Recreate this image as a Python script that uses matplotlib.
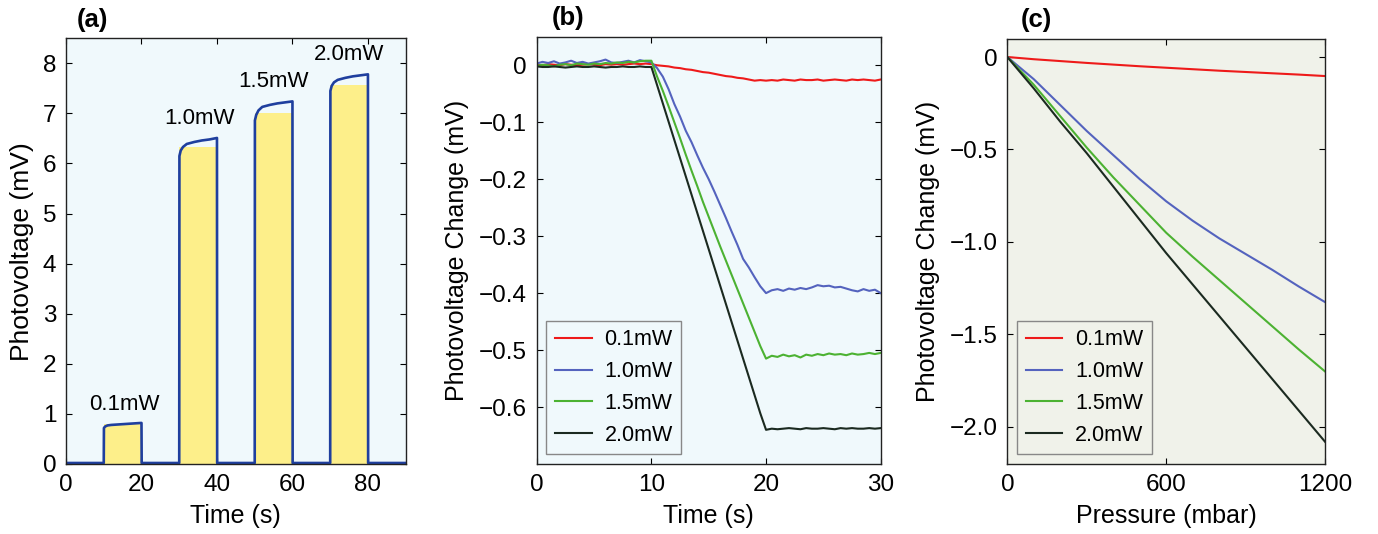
import numpy as np
import matplotlib.pyplot as plt

plt.rcParams['font.family'] = ['Liberation Sans', 'DejaVu Sans']

# ── Panel (a): photovoltage pulses ────────────────────────────────
a_time = [0, 10, 10.05, 10.4, 11, 12, 14, 16, 18, 20, 20.05,
          30, 30.05, 30.4, 31, 32, 34, 36, 38, 40, 40.05,
          50, 50.05, 50.4, 51, 52, 54, 56, 58, 60, 60.05,
          70, 70.05, 70.4, 71, 72, 74, 76, 78, 80, 80.05, 90]
a_volt = [0.02, 0.02, 0.72, 0.75, 0.77, 0.78, 0.79, 0.80, 0.81, 0.82, 0.02,
          0.02, 6.15, 6.26, 6.33, 6.39, 6.43, 6.46, 6.48, 6.51, 0.02,
          0.02, 6.86, 6.97, 7.06, 7.13, 7.17, 7.20, 7.22, 7.24, 0.02,
          0.02, 7.45, 7.55, 7.62, 7.67, 7.71, 7.74, 7.76, 7.78, 0.02, 0.02]
pulse_start = [10, 30, 50, 70]
pulse_width = [10, 10, 10, 10]
pulse_fill = [0.80, 6.33, 7.00, 7.57]
pulse_names = ["0.1mW", "1.0mW", "1.5mW", "2.0mW"]
label_x = [15.5, 35.4, 55.1, 75.0]
label_y = [0.98, 6.68, 7.43, 7.97]

# ── Panel (b): photovoltage change vs time ────────────────────────
b_time = np.arange(0, 30.5, 0.5)
b_01 = [0.001, 0.000, 0.002, 0.001, 0.000, 0.002, 0.001, 0.000, 0.001, 0.002,
        0.001, 0.000, 0.002, 0.001, 0.002, 0.001, 0.002, 0.003, 0.002, 0.003,
        0.002, 0.000, -0.001, -0.002, -0.004, -0.005, -0.007, -0.008, -0.010, -0.012,
        -0.013, -0.015, -0.017, -0.019, -0.020, -0.022, -0.023, -0.025, -0.027, -0.026,
        -0.027,
        -0.026, -0.027, -0.025, -0.026, -0.027, -0.025, -0.026, -0.026, -0.025, -0.027,
        -0.026, -0.025, -0.026, -0.027, -0.025, -0.026, -0.025, -0.026, -0.027, -0.025]
b_10 = [0.003, 0.006, 0.004, 0.007, 0.003, 0.005, 0.008, 0.004, 0.006, 0.003,
        0.005, 0.007, 0.010, 0.005, 0.004, 0.006, 0.008, 0.005, 0.009, 0.007,
        0.005, -0.005, -0.020, -0.042, -0.068, -0.090, -0.115, -0.135, -0.158, -0.180,
        -0.200, -0.222, -0.245, -0.268, -0.292, -0.315, -0.340, -0.355, -0.372, -0.388,
        -0.400,
        -0.395, -0.393, -0.396, -0.392, -0.394, -0.391, -0.393, -0.390, -0.386, -0.388,
        -0.387, -0.390, -0.389, -0.392, -0.395, -0.397, -0.393, -0.396, -0.394, -0.400]
b_15 = [-0.001, 0.001, 0.000, -0.002, 0.001, 0.002, 0.000, 0.003, 0.002, 0.001,
        0.003, 0.002, 0.004, 0.003, 0.005, 0.004, 0.006, 0.005, 0.007, 0.008,
        0.008, -0.020, -0.045, -0.072, -0.100, -0.128, -0.157, -0.185, -0.212, -0.240,
        -0.266, -0.292, -0.318, -0.343, -0.368, -0.393, -0.418, -0.443, -0.468, -0.493,
        -0.515,
        -0.510, -0.512, -0.508, -0.511, -0.509, -0.513, -0.508, -0.510, -0.507, -0.509,
        -0.506, -0.508, -0.507, -0.509, -0.506, -0.508, -0.507, -0.505, -0.507, -0.505]
b_20 = [-0.002, -0.003, -0.003, -0.002, -0.003, -0.004, -0.003, -0.002, -0.003, -0.003,
        -0.002, -0.003, -0.004, -0.003, -0.003, -0.002, -0.003, -0.003, -0.002, -0.003,
        -0.003, -0.035, -0.067, -0.099, -0.131, -0.163, -0.195, -0.227, -0.259, -0.291,
        -0.323, -0.355, -0.387, -0.419, -0.451, -0.483, -0.515, -0.547, -0.579, -0.611,
        -0.640,
        -0.638, -0.639, -0.638, -0.637, -0.638, -0.639, -0.637, -0.638, -0.638, -0.637,
        -0.638, -0.639, -0.637, -0.638, -0.637, -0.638, -0.638, -0.637, -0.638, -0.637]

# ── Panel (c): photovoltage change vs pressure ────────────────────
c_press = [0, 100, 200, 300, 400, 500, 600, 700, 800, 900, 1000, 1100, 1200]
c_01 = [0, -0.012, -0.022, -0.032, -0.041, -0.050, -0.058, -0.066, -0.074, -0.081, -0.088, -0.095, -0.103]
c_10 = [0, -0.12, -0.26, -0.40, -0.53, -0.66, -0.78, -0.885, -0.98, -1.065, -1.15, -1.24, -1.325]
c_15 = [0, -0.15, -0.32, -0.49, -0.65, -0.80, -0.95, -1.08, -1.205, -1.33, -1.455, -1.58, -1.70]
c_20 = [0, -0.17, -0.35, -0.52, -0.70, -0.88, -1.06, -1.23, -1.40, -1.57, -1.74, -1.91, -2.08]

series_names = ["0.1mW", "1.0mW", "1.5mW", "2.0mW"]
series_colors = ["#ee1a1a", "#5463be", "#4cb232", "#1b2a20"]

BG_BLUE = "#f0f9fc"
BG_BEIGE = "#f0f2ea"
TICK_FS = 17.5
LABEL_FS = 18


def style_axes(ax, bg):
    ax.set_facecolor(bg)
    ax.tick_params(direction="in", length=4, width=0.8, top=True, right=True,
                   labelsize=TICK_FS, pad=7)
    for sp in ax.spines.values():
        sp.set_linewidth(1.0)
        sp.set_color("#222222")


fig = plt.figure(figsize=(13.78, 5.34), dpi=100)
ax_a = fig.add_axes([0.0479, 0.1311, 0.2465, 0.7972])
ax_b = fig.add_axes([0.3895, 0.1311, 0.2496, 0.8000])
ax_c = fig.add_axes([0.7310, 0.1311, 0.2306, 0.7968])

# (a)
style_axes(ax_a, BG_BLUE)
ax_a.bar(pulse_start, pulse_fill, width=pulse_width, align="edge",
         color="#fdef8a", zorder=1)
ax_a.plot(a_time, a_volt, color="#1f3f9e", lw=1.9, zorder=2)
for name, x, y in zip(pulse_names, label_x, label_y):
    ax_a.text(x, y, name, ha="center", va="bottom", fontsize=16)
ax_a.set_xlim(0, 90)
ax_a.set_ylim(0, 8.5)
ax_a.set_xticks([0, 20, 40, 60, 80])
ax_a.set_yticks(range(0, 9))
ax_a.set_xlabel("Time (s)", fontsize=LABEL_FS, labelpad=6)
ax_a.set_ylabel("Photovoltage (mV)", fontsize=19, labelpad=6)

# (b)
style_axes(ax_b, BG_BLUE)
for vals, name, col in zip([b_01, b_10, b_15, b_20], series_names, series_colors):
    ax_b.plot(b_time, vals, color=col, lw=1.5, label=name)
ax_b.set_xlim(0, 30)
ax_b.set_ylim(-0.70, 0.05)
ax_b.set_xticks([0, 10, 20, 30])
ax_b.set_yticks([0, -0.1, -0.2, -0.3, -0.4, -0.5, -0.6])
ax_b.set_yticklabels(["0", "\u22120.1", "\u22120.2", "\u22120.3", "\u22120.4", "\u22120.5", "\u22120.6"])
ax_b.set_xlabel("Time (s)", fontsize=LABEL_FS, labelpad=6)
ax_b.set_ylabel("Photovoltage Change (mV)", fontsize=LABEL_FS, labelpad=7)

# (c)
style_axes(ax_c, BG_BEIGE)
for vals, name, col in zip([c_01, c_10, c_15, c_20], series_names, series_colors):
    ax_c.plot(c_press, vals, color=col, lw=1.5, label=name)
ax_c.set_xlim(0, 1200)
ax_c.set_ylim(-2.2, 0.1)
ax_c.set_xticks([0, 600, 1200])
ax_c.set_yticks([0, -0.5, -1.0, -1.5, -2.0])
ax_c.set_yticklabels(["0", "\u22120.5", "\u22121.0", "\u22121.5", "\u22122.0"])
ax_c.set_xlabel("Pressure (mbar)", fontsize=LABEL_FS, labelpad=6)
ax_c.set_ylabel("Photovoltage Change (mV)", fontsize=LABEL_FS, labelpad=7)

for ax, bg in [(ax_b, BG_BLUE), (ax_c, BG_BEIGE)]:
    leg = ax.legend(loc="lower left", fontsize=15.5, handlelength=1.7,
                    labelspacing=0.5, borderaxespad=0.45, fancybox=False,
                    framealpha=1, facecolor=bg, edgecolor="#888888",
                    handletextpad=0.6, borderpad=0.4)
    leg.get_frame().set_linewidth(1.0)

# panel letters
for ax, letter, dx in [(ax_a, "(a)", 0.079), (ax_b, "(b)", 0.092), (ax_c, "(c)", 0.0925)]:
    ax.text(dx, 1.043, letter, transform=ax.transAxes, fontsize=18.5,
            fontweight="bold", ha="center", va="center")

fig.savefig("out.png", dpi=100)
